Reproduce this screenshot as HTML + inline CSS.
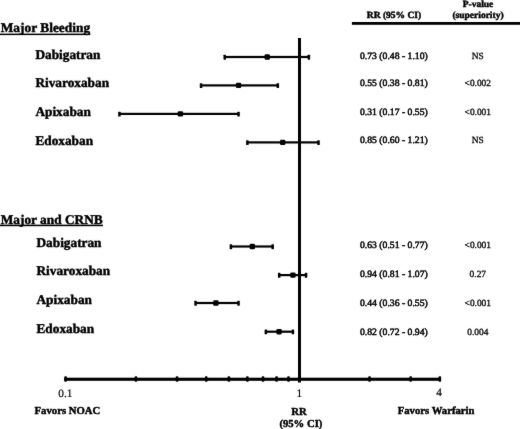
<!DOCTYPE html><html><head><meta charset="utf-8"><style>html,body{margin:0;padding:0;background:#fff;width:520px;height:429px;overflow:hidden}svg{display:block;will-change:transform}text{font-family:"Liberation Serif",serif;text-rendering:geometricPrecision;fill:#000;stroke:#000;stroke-width:0.45px}.b{font-weight:bold}</style></head><body>
<svg width="520" height="429" viewBox="0 0 520 429">
<rect x="0" y="0" width="520" height="429" fill="#fff"/>
<defs><filter id="f" x="0" y="0" width="520" height="429" filterUnits="userSpaceOnUse" color-interpolation-filters="sRGB"><feConvolveMatrix order="3" kernelMatrix="0.0125 0.0500 0.0125 0.0500 0.7500 0.0500 0.0125 0.0500 0.0125" divisor="1" edgeMode="duplicate"/></filter></defs><g filter="url(#f)">
<text class="b" x="0.7" y="32.4" font-size="13.3" textLength="89.4" lengthAdjust="spacingAndGlyphs">Major Bleeding</text>
<rect x="0" y="33.6" width="90.3" height="1.5" fill="#000"/>
<text class="b" x="0.7" y="223.5" font-size="13.3" textLength="102" lengthAdjust="spacingAndGlyphs">Major and CRNB</text>
<rect x="0" y="224.65" width="103" height="1.55" fill="#000"/>
<text class="b" x="394" y="17.6" font-size="9.5" text-anchor="middle">RR (95% CI)</text>
<text class="b" x="478" y="6.5" font-size="9.5" text-anchor="middle">P-value</text>
<text class="b" x="478" y="18" font-size="9.5" text-anchor="middle">(superiority)</text>
<rect x="351.9" y="22" width="170" height="2.8" fill="#000"/>
<rect x="298" y="38" width="3" height="344.5" fill="#000"/>
<rect x="64.2" y="377.7" width="376.8" height="3.1" fill="#000"/>
<rect x="64.30" y="376.3" width="2.6" height="5.4" rx="0.8" fill="#000"/>
<rect x="134.62" y="376.3" width="2.6" height="5.4" rx="0.8" fill="#000"/>
<rect x="175.76" y="376.3" width="2.6" height="5.4" rx="0.8" fill="#000"/>
<rect x="204.94" y="376.3" width="2.6" height="5.4" rx="0.8" fill="#000"/>
<rect x="227.58" y="376.3" width="2.6" height="5.4" rx="0.8" fill="#000"/>
<rect x="246.08" y="376.3" width="2.6" height="5.4" rx="0.8" fill="#000"/>
<rect x="261.71" y="376.3" width="2.6" height="5.4" rx="0.8" fill="#000"/>
<rect x="275.26" y="376.3" width="2.6" height="5.4" rx="0.8" fill="#000"/>
<rect x="287.21" y="376.3" width="2.6" height="5.4" rx="0.8" fill="#000"/>
<rect x="297.90" y="376.3" width="2.6" height="5.4" rx="0.8" fill="#000"/>
<rect x="368.22" y="376.3" width="2.6" height="5.4" rx="0.8" fill="#000"/>
<rect x="409.36" y="376.3" width="2.6" height="5.4" rx="0.8" fill="#000"/>
<rect x="438.54" y="376.3" width="2.6" height="5.4" rx="0.8" fill="#000"/>
<text x="65.3" y="396.7" font-size="11.3" text-anchor="middle" style="stroke-width:0.2px">0.1</text>
<text x="299.4" y="397" font-size="11.3" text-anchor="middle" style="stroke-width:0.2px">1</text>
<text x="439.1" y="396.4" font-size="11.3" text-anchor="middle" style="stroke-width:0.2px">4</text>
<text class="b" x="67.4" y="414.4" font-size="10.7" text-anchor="middle">Favors NOAC</text>
<text class="b" x="299" y="414.5" font-size="10.7" text-anchor="middle">RR</text>
<text class="b" x="300.9" y="426.9" font-size="10.7" text-anchor="middle">(95% CI)</text>
<text class="b" x="436.1" y="414.4" font-size="10.7" text-anchor="middle">Favors Warfarin</text>
<text class="b" x="35.4" y="58.85" font-size="13.3">Dabigatran</text>
<rect x="224.74" y="55.90" width="84.13" height="2.2" fill="#000"/>
<rect x="223.49" y="54.75" width="2.5" height="4.9" rx="0.6" fill="#000"/>
<rect x="307.62" y="54.75" width="2.5" height="4.9" rx="0.6" fill="#000"/>
<rect x="264.57" y="54.30" width="5.4" height="5.4" rx="1.3" fill="#000"/>
<text x="393.9" y="58.7" font-size="9.7" text-anchor="middle" class="" style="stroke-width:0.5px">0.73 (0.48 - 1.10)</text>
<text x="477.8" y="58.7" font-size="9.4" text-anchor="middle" style="stroke-width:0.3px">NS</text>
<text class="b" x="35.4" y="87.1" font-size="13.3">Rivaroxaban</text>
<rect x="201.04" y="84.30" width="76.78" height="2.2" fill="#000"/>
<rect x="199.79" y="83.15" width="2.5" height="4.9" rx="0.6" fill="#000"/>
<rect x="276.57" y="83.15" width="2.5" height="4.9" rx="0.6" fill="#000"/>
<rect x="235.85" y="82.70" width="5.4" height="5.4" rx="1.3" fill="#000"/>
<text x="393.9" y="86.1" font-size="9.7" text-anchor="middle" class="" style="stroke-width:0.5px">0.55 (0.38 - 0.81)</text>
<text x="477.8" y="86.1" font-size="9.4" text-anchor="middle" style="stroke-width:0.3px">&lt;0.002</text>
<text class="b" x="35.4" y="115.75" font-size="13.3">Apixaban</text>
<rect x="119.43" y="112.80" width="119.12" height="2.2" fill="#000"/>
<rect x="118.18" y="111.65" width="2.5" height="4.9" rx="0.6" fill="#000"/>
<rect x="237.30" y="111.65" width="2.5" height="4.9" rx="0.6" fill="#000"/>
<rect x="177.68" y="111.20" width="5.4" height="5.4" rx="1.3" fill="#000"/>
<text x="393.9" y="114.8" font-size="9.7" text-anchor="middle" class="" style="stroke-width:0.5px">0.31 (0.17 - 0.55)</text>
<text x="477.8" y="114.8" font-size="9.4" text-anchor="middle" style="stroke-width:0.3px">&lt;0.001</text>
<text class="b" x="35.4" y="145.1" font-size="13.3">Edoxaban</text>
<rect x="247.38" y="141.30" width="71.16" height="2.2" fill="#000"/>
<rect x="246.13" y="140.15" width="2.5" height="4.9" rx="0.6" fill="#000"/>
<rect x="317.29" y="140.15" width="2.5" height="4.9" rx="0.6" fill="#000"/>
<rect x="280.01" y="139.70" width="5.4" height="5.4" rx="1.3" fill="#000"/>
<text x="393.9" y="143.4" font-size="9.7" text-anchor="middle" class="" style="stroke-width:0.5px">0.85 (0.60 - 1.21)</text>
<text x="477.8" y="143.4" font-size="9.4" text-anchor="middle" style="stroke-width:0.3px">NS</text>
<text class="b" x="36.5" y="247.1" font-size="13.3">Dabigatran</text>
<rect x="230.89" y="245.40" width="41.80" height="2.2" fill="#000"/>
<rect x="229.64" y="244.25" width="2.5" height="4.9" rx="0.6" fill="#000"/>
<rect x="271.43" y="244.25" width="2.5" height="4.9" rx="0.6" fill="#000"/>
<rect x="249.63" y="243.80" width="5.4" height="5.4" rx="1.3" fill="#000"/>
<text x="393.9" y="248.1" font-size="9.7" text-anchor="middle" class="" style="stroke-width:0.5px">0.63 (0.51 - 0.77)</text>
<text x="477.8" y="248.1" font-size="9.4" text-anchor="middle" style="stroke-width:0.3px">&lt;0.001</text>
<text class="b" x="36.5" y="275.4" font-size="13.3">Rivaroxaban</text>
<rect x="279.20" y="274.00" width="26.86" height="2.2" fill="#000"/>
<rect x="277.95" y="272.85" width="2.5" height="4.9" rx="0.6" fill="#000"/>
<rect x="304.81" y="272.85" width="2.5" height="4.9" rx="0.6" fill="#000"/>
<rect x="290.22" y="272.40" width="5.4" height="5.4" rx="1.3" fill="#000"/>
<text x="393.9" y="276.8" font-size="9.7" text-anchor="middle" class="" style="stroke-width:0.5px">0.94 (0.81 - 1.07)</text>
<text x="477.8" y="276.8" font-size="9.4" text-anchor="middle" style="stroke-width:0.3px">0.27</text>
<text class="b" x="36.5" y="303.9" font-size="13.3">Apixaban</text>
<rect x="195.55" y="301.90" width="43.00" height="2.2" fill="#000"/>
<rect x="194.30" y="300.75" width="2.5" height="4.9" rx="0.6" fill="#000"/>
<rect x="237.30" y="300.75" width="2.5" height="4.9" rx="0.6" fill="#000"/>
<rect x="213.21" y="300.30" width="5.4" height="5.4" rx="1.3" fill="#000"/>
<text x="393.9" y="305.7" font-size="9.7" text-anchor="middle" class="" style="stroke-width:0.5px">0.44 (0.36 - 0.55)</text>
<text x="477.8" y="305.7" font-size="9.4" text-anchor="middle" style="stroke-width:0.3px">&lt;0.001</text>
<text class="b" x="36.5" y="333.25" font-size="13.3">Edoxaban</text>
<rect x="265.87" y="330.60" width="27.05" height="2.2" fill="#000"/>
<rect x="264.62" y="329.45" width="2.5" height="4.9" rx="0.6" fill="#000"/>
<rect x="291.67" y="329.45" width="2.5" height="4.9" rx="0.6" fill="#000"/>
<rect x="276.37" y="329.00" width="5.4" height="5.4" rx="1.3" fill="#000"/>
<text x="393.9" y="334.6" font-size="9.7" text-anchor="middle" class="" style="stroke-width:0.5px">0.82 (0.72 - 0.94)</text>
<text x="477.8" y="334.6" font-size="9.4" text-anchor="middle" style="stroke-width:0.3px">0.004</text>
</g></svg></body></html>
